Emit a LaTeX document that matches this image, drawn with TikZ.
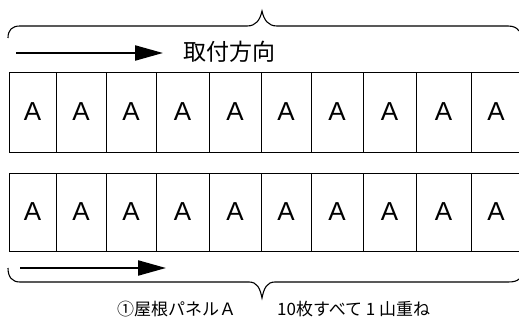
\documentclass[tikz,border=0pt]{standalone}
\usepackage{fontspec}
\setmainfont{Liberation Sans}
\newfontfamily\jpfont{Noto Sans CJK JP}
\usetikzlibrary{arrows.meta}
\begin{document}
\begin{tikzpicture}[x=1pt,y=-1pt,
  cell/.style={draw=black, line width=0.9pt, inner sep=0pt, minimum height=80pt,
    font=\fontsize{26}{26}\selectfont},
  dirarrow/.style={line width=2.2pt, -{Triangle[length=28pt,width=15pt]}},
  bracestyle/.style={draw=black, line width=1.1pt},
  jptitle/.style={inner sep=0pt, anchor=west, font=\jpfont\fontsize{23}{23}\selectfont},
  jpnote/.style={inner sep=0pt, anchor=west, font=\jpfont\fontsize{17}{17}\selectfont}]
\useasboundingbox (0,0) rectangle (519,323);
\clip (0,0) rectangle (519,323);
\fill[white] (0,0) rectangle (519,323);
% top brace
\draw[bracestyle] (8,38) .. controls (8,30) and (12,26) .. (20,26) -- (247,26)
  .. controls (256,26) and (260,20) .. (262,11)
  .. controls (264,20) and (268,26) .. (277,26) -- (508,26)
  .. controls (514,26) and (517,28) .. (519,31);
% top arrow and title
\coordinate (ta1) at (16,53);
\coordinate (ta2) at (163,53);
\draw[dirarrow] (ta1) -- (ta2);
\node[jptitle] (title) at (183,52) {取付方向};
% rows of cells
\foreach \i/\a/\b in {1/9/56,2/56/106,3/106/156,4/156/209,5/209/261,6/261/311,7/311/363,8/363/416,9/416/471,10/471/521}{
  \node[cell, minimum width={\b-\a}] (t\i) at ({(\a+\b)/2},112) {A};
  \node[cell, minimum width={\b-\a}, minimum height=78pt] (b\i) at ({(\a+\b)/2},212) {A};
}
% bottom arrow
\coordinate (ba1) at (20,268);
\coordinate (ba2) at (166,268);
\draw[dirarrow] (ba1) -- (ba2);
% bottom brace
\draw[bracestyle] (8,268) .. controls (8,277) and (12,282) .. (20,282) -- (249,282)
  .. controls (257,282) and (260,288) .. (262,298)
  .. controls (264,288) and (267,282) .. (275,282) -- (508,282)
  .. controls (514,282) and (517,281) .. (519,279);
% caption
\node[jpnote] (cap1) at (117,309) {①屋根パネルＡ};
\node[jpnote] (cap2) at (277,309) {10枚すべて 1 山重ね};
\end{tikzpicture}
\end{document}
